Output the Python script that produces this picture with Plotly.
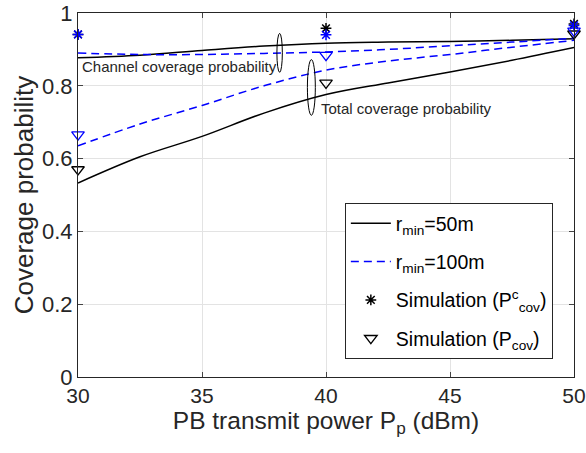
import plotly.graph_objects as go

# analytical curves
x_curve = [30, 32.5, 35, 37.5, 40, 42.5, 45, 47.5, 50]
ch_50 = [0.877, 0.884, 0.897, 0.909, 0.917, 0.920, 0.922, 0.925, 0.929]
ch_100 = [0.890, 0.886, 0.886, 0.889, 0.893, 0.900, 0.910, 0.920, 0.931]
tot_50 = [0.533, 0.605, 0.661, 0.725, 0.776, 0.808, 0.838, 0.870, 0.905]
tot_100 = [0.635, 0.695, 0.746, 0.800, 0.843, 0.868, 0.886, 0.906, 0.925]

# simulation points
x_sim = [30, 40, 50]
sim_ch_50 = [0.941, 0.958, 0.970]
sim_ch_100 = [0.941, 0.940, 0.966]
sim_tot_50 = [0.570, 0.808, 0.943]
sim_tot_100 = [0.666, 0.884, 0.951]

x_ticks = [30, 35, 40, 45, 50]
y_ticks = [0, 0.2, 0.4, 0.6, 0.8, 1]
y_tick_text = ["0", "0.2", "0.4", "0.6", "0.8", "1"]

BLUE = "#0000ff"
FONT = "Liberation Sans, Arial, sans-serif"

fig = go.Figure()
fig.add_trace(go.Scatter(x=x_curve, y=ch_50, mode="lines", line=dict(color="black", width=1.5, shape="spline"),
                         name="r<sub>min</sub>=50m", legendgroup="a"))
fig.add_trace(go.Scatter(x=x_curve, y=tot_50, mode="lines", line=dict(color="black", width=1.5, shape="spline"),
                         showlegend=False, legendgroup="a"))
fig.add_trace(go.Scatter(x=x_curve, y=ch_100, mode="lines",
                         line=dict(color=BLUE, width=1.5, dash="8px,5px", shape="spline"),
                         name="r<sub>min</sub>=100m", legendgroup="b"))
fig.add_trace(go.Scatter(x=x_curve, y=tot_100, mode="lines",
                         line=dict(color=BLUE, width=1.5, dash="8px,5px", shape="spline"),
                         showlegend=False, legendgroup="b"))

fig.add_trace(go.Scatter(x=x_sim, y=sim_ch_50, mode="markers", cliponaxis=False, legendgroup="c",
                         marker=dict(symbol="asterisk-open", size=9, color="black",
                                     line=dict(color="black", width=1.5)),
                         name="Simulation (P<sup>c</sup><sub>cov</sub>)"))
fig.add_trace(go.Scatter(x=x_sim, y=sim_tot_50, mode="markers", cliponaxis=False, legendgroup="d",
                         marker=dict(symbol="triangle-down-open", size=11, color="black",
                                     line=dict(color="black", width=1.3)),
                         name="Simulation (P<sub>cov</sub>)"))
fig.add_trace(go.Scatter(x=x_sim, y=sim_ch_100, mode="markers", cliponaxis=False, showlegend=False,
                         legendgroup="c",
                         marker=dict(symbol="asterisk-open", size=9, color=BLUE,
                                     line=dict(color=BLUE, width=1.5))))
fig.add_trace(go.Scatter(x=x_sim, y=sim_tot_100, mode="markers", cliponaxis=False, showlegend=False,
                         legendgroup="d",
                         marker=dict(symbol="triangle-down-open", size=11, color=BLUE,
                                     line=dict(color=BLUE, width=1.3))))

# ellipses marking curve groups
fig.add_shape(type="circle", xref="x", yref="y", x0=38.02, x1=38.24, y0=0.837, y1=0.944,
              line=dict(color="black", width=1))
fig.add_shape(type="circle", xref="x", yref="y", x0=39.25, x1=39.57, y0=0.719, y1=0.872,
              line=dict(color="black", width=1))

fig.add_annotation(x=30.1, y=0.853, xref="x", yref="y", text="Channel coverage probability",
                   showarrow=False, xanchor="left", yanchor="middle",
                   font=dict(family=FONT, size=15, color="#262626"))
fig.add_annotation(x=39.7, y=0.737, xref="x", yref="y", text="Total coverage probability",
                   showarrow=False, xanchor="left", yanchor="middle",
                   font=dict(family=FONT, size=15, color="#262626"))

fig.update_layout(
    width=586, height=453,
    margin=dict(l=78, r=12, t=13, b=76),
    plot_bgcolor="white", paper_bgcolor="white",
    font=dict(family=FONT, size=20, color="#262626"),
    legend=dict(x=0.538, y=0.478, xanchor="left", yanchor="top",
                bgcolor="white", bordercolor="#262626", borderwidth=1,
                tracegroupgap=10,
                font=dict(family=FONT, size=19.5, color="black"), itemwidth=40),
)
fig.update_xaxes(range=[30, 50], tickvals=x_ticks, ticks="inside", ticklen=5,
                 showline=True, linecolor="#262626", linewidth=1, mirror="ticks",
                 showgrid=True, gridcolor="#e3e3e3", gridwidth=1, zeroline=False,
                 tickfont=dict(size=21), automargin=False,
                 title=dict(text="PB transmit power P<sub>p</sub> (dBm)", font=dict(size=24.5), standoff=3))
fig.update_yaxes(range=[0, 1], tickvals=y_ticks, ticktext=y_tick_text, ticks="inside", ticklen=5,
                 showline=True, linecolor="#262626", linewidth=1, mirror="ticks",
                 showgrid=True, gridcolor="#e3e3e3", gridwidth=1, zeroline=False,
                 tickfont=dict(size=22), automargin=False,
                 title=dict(text="Coverage probability", font=dict(size=26), standoff=0))

# remove the default page margin so the 586x453 figure fills the window exactly
fig.write_html("out.html", config={"displayModeBar": False},
               post_script="document.body.style.margin='0px';document.body.style.overflow='hidden';")
